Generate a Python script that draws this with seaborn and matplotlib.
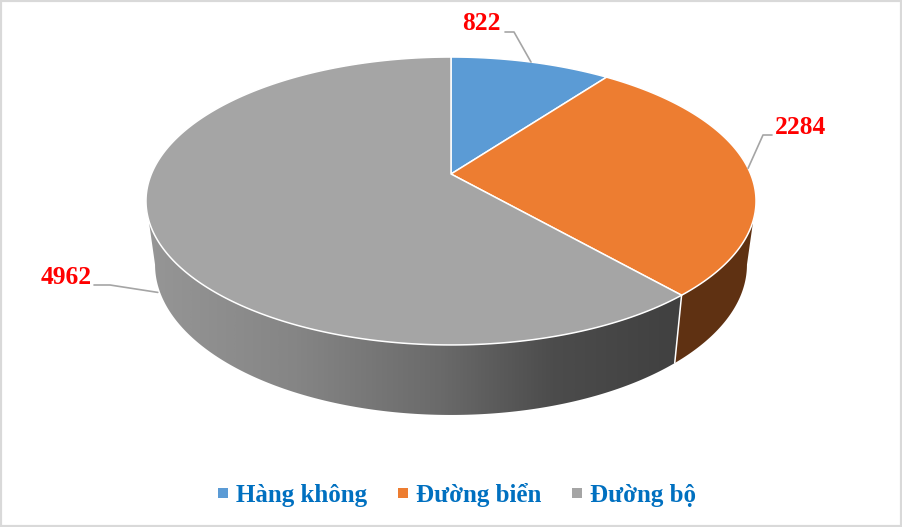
import numpy as np
import matplotlib
matplotlib.use("Agg")
import matplotlib.pyplot as plt
from matplotlib.lines import Line2D
from matplotlib.patches import Polygon
from matplotlib.colors import LinearSegmentedColormap
import seaborn as sns

categories = ["Hàng không", "Đường biển", "Đường bộ"]
values = [822, 2284, 4962]
slice_colors = ["#5B9BD5", "#ED7D31", "#A5A5A5"]

sns.set_theme(style="white")
plt.rcParams["font.family"] = ["Liberation Serif", "DejaVu Serif"]
palette = sns.color_palette(slice_colors)

fig, ax = plt.subplots(figsize=(9.02, 5.27), dpi=100)
ax.set_position([0, 0, 1, 1])

# Perspective projection of the unit disc to the picture
K = 0.1875
def top(theta):
    t = np.radians(theta)
    d = 1 + K * np.cos(t)
    return 451 + 299.6 * np.sin(t) / d, 174 - 138.9 * np.cos(t) / d

def bottom(theta):
    t = np.radians(theta)
    d = 1 + K * np.cos(t)
    return 451 + 290.7 * np.sin(t) / d, 236.5 - 145 * np.cos(t) / d

edges = np.concatenate([[0], np.cumsum(values) / np.sum(values) * 360])
RIGHT_EXT, LEFT_EXT = 100.8, 259.2

def wall(a, b):
    th = np.linspace(a, b, 200)
    xt, yt = top(th)
    xb, yb = bottom(th[::-1])
    return np.column_stack([np.r_[xt, xb], np.r_[yt, yb]])

# side walls
brown = Polygon(wall(RIGHT_EXT, edges[2]), closed=True, fc="#5F3112", ec="none", zorder=1)
ax.add_patch(brown)
gray_cmap = LinearSegmentedColormap.from_list(
    "wall",
    [(0, "#969696"), (0.28, "#858585"), (0.55, "#6A6A6A"), (0.76, "#4C4C4C"), (1, "#404040")],
)
gray_poly = Polygon(wall(edges[2], LEFT_EXT), closed=True, fc="none", ec="none", zorder=1)
ax.add_patch(gray_poly)
img = ax.imshow(np.linspace(0, 1, 512)[None, :], cmap=gray_cmap, aspect="auto",
                extent=(146, 682, 420, 200), zorder=1, interpolation="bilinear")
img.set_clip_path(gray_poly)

# wall separator
sx0, sy0 = top(edges[2])
sx1, sy1 = bottom(edges[2])
ax.plot([sx0, sx1], [sy0, sy1], color="white", lw=1.1, zorder=2)

# top face
for i, c in enumerate(palette):
    th = np.linspace(edges[i], edges[i + 1], 240)
    x, y = top(th)
    ax.fill(np.r_[451, x], np.r_[174, y], facecolor=c, edgecolor="white",
            lw=1.1, joinstyle="round", zorder=3)

# data labels with leader lines
mids = (edges[:-1] + edges[1:]) / 2
ax0, ay0 = top(mids[0])
ax.plot([ax0, 514, 505], [ay0, 32, 32], color="#A5A5A5", lw=1.2, zorder=4)
ax1, ay1 = top(mids[1])
ax.plot([ax1, 763, 772], [ay1, 135, 135], color="#A5A5A5", lw=1.2, zorder=4)
ax2, ay2 = bottom(mids[2])
ax.plot([94, 110, ax2 - 2], [285, 285, ay2 + 1], color="#A5A5A5", lw=1.2, zorder=0.5)
for txt, px, py, ha in [(values[0], 501, 23, "right"), (values[1], 775, 128, "left"), (values[2], 92, 278, "right")]:
    ax.text(px, py, str(txt), color="#FF0000", fontsize=18.4, fontweight="bold",
            ha=ha, va="center", zorder=5)

# legend
handles = [Line2D([], [], linestyle="none", marker="s", markersize=6.6, markeredgewidth=0, color=c) for c in palette]
leg = ax.legend(handles, categories, loc="center", bbox_to_anchor=(456 / 902, 1 - 495 / 527),
                ncol=3, frameon=False, fontsize=18, handlelength=0.6, handletextpad=0.22,
                columnspacing=1.12, borderpad=0, borderaxespad=0)
for t in leg.get_texts():
    t.set_color("#0070C0")
    t.set_fontweight("bold")

ax.set_xlim(0, 902)
ax.set_ylim(527, 0)
ax.set_xticks([])
ax.set_yticks([])
for s in ax.spines.values():
    s.set_visible(True)
    s.set_color("#D9D9D9")
    s.set_linewidth(3)

fig.savefig("out.png", dpi=100)
